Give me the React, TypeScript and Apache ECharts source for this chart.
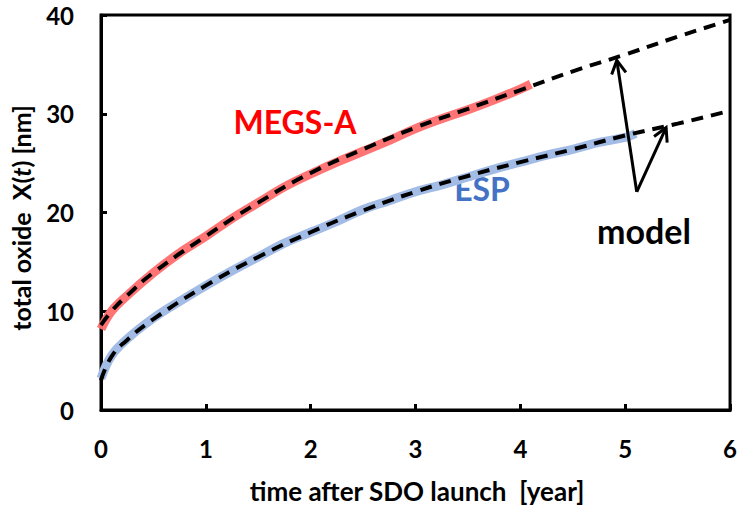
import React, { useEffect, useRef } from "react";
import * as echarts from "echarts";

const megsT = [0, 0.1, 0.25, 0.5, 0.75, 1, 1.25, 1.5, 1.75, 2, 2.25, 2.5, 2.75, 3, 3.25, 3.5, 3.75, 4, 4.1];
const megsV = [8.2, 10.0, 11.6, 13.9, 15.9, 17.6, 19.4, 21.0, 22.6, 23.9, 25.1, 26.2, 27.3, 28.5, 29.5, 30.4, 31.4, 32.5, 33.0];

const espT = [0, 0.1, 0.25, 0.5, 0.75, 1, 1.25, 1.5, 1.75, 2, 2.25, 2.5, 2.75, 3, 3.25, 3.5, 3.75, 4, 4.25, 4.5, 4.75, 5, 5.1];
const espV = [3.2, 5.5, 7.2, 9.3, 11.0, 12.6, 14.1, 15.5, 16.9, 18.0, 19.1, 20.3, 21.2, 22.1, 22.8, 23.6, 24.4, 25.1, 25.8, 26.4, 27.1, 27.6, 28.0];

const modelT = [0, 0.1, 0.25, 0.5, 1, 1.5, 2, 2.5, 3, 3.5, 4, 4.5, 5, 5.5, 6];
const modelMegsV = [8.6, 10.0, 11.6, 13.9, 17.6, 21.0, 24.0, 26.4, 28.6, 30.5, 32.4, 34.3, 36.0, 37.8, 39.5];
const modelEspV = [3.0, 5.4, 7.1, 9.2, 12.6, 15.5, 18.0, 20.2, 22.1, 23.7, 25.1, 26.4, 27.8, 29.0, 30.3];

const arrows = [
  [5.11, 22.1, 4.92, 35.4],
  [5.11, 22.1, 5.39, 28.6],
];

const xTicks = [0, 1, 2, 3, 4, 5, 6];
const yTicks = [0, 10, 20, 30, 40];

const FONT = "Lato, 'Open Sans', sans-serif";

const zip = (t: number[], v: number[]) => t.map((x, i) => [x, v[i]]);

export default function App() {
  const ref = useRef<HTMLDivElement>(null);
  useEffect(() => {
    if (!ref.current) return;
    const chart = echarts.init(ref.current, null, { renderer: "svg" });
    const axisLabel = { fontFamily: FONT, fontWeight: "bold" as const, fontSize: 24, color: "#000" };
    chart.setOption({
      animation: false,
      backgroundColor: "#fff",
      grid: { left: 101, top: 15, right: 3, bottom: 98, show: true, borderColor: "#000", borderWidth: 3, containLabel: false },
      xAxis: {
        type: "value",
        min: xTicks[0],
        max: xTicks[xTicks.length - 1],
        interval: 1,
        axisLine: { show: true, lineStyle: { color: "#000", width: 3 } },
        axisTick: { show: true, inside: true, length: 6, lineStyle: { color: "#000", width: 3 } },
        splitLine: { show: false },
        axisLabel: { ...axisLabel, margin: 26 },
      },
      yAxis: {
        type: "value",
        min: yTicks[0],
        max: yTicks[yTicks.length - 1],
        interval: 10,
        axisLine: { show: true, lineStyle: { color: "#000", width: 3 } },
        axisTick: { show: true, inside: true, length: 6, lineStyle: { color: "#000", width: 3 } },
        splitLine: { show: false },
        axisLabel: { ...axisLabel, margin: 27 },
      },
      series: [
        {
          type: "line", name: "MEGS-A", data: zip(megsT, megsV), smooth: 0.4, showSymbol: false,
          lineStyle: { color: "#ff6e6e", width: 9, opacity: 0.95 }, z: 2,
        },
        {
          type: "line", name: "ESP", data: zip(espT, espV), smooth: 0.4, showSymbol: false,
          lineStyle: { color: "#a3bce6", width: 9 }, z: 2,
        },
        {
          type: "line", name: "model MEGS-A", data: zip(modelT, modelMegsV), smooth: 0.5, showSymbol: false,
          lineStyle: { color: "#000", width: 4, type: [12, 8] }, z: 3,
        },
        {
          type: "line", name: "model ESP", data: zip(modelT, modelEspV), smooth: 0.5, showSymbol: false,
          lineStyle: { color: "#000", width: 4, type: [12, 8] }, z: 3,
        },
        {
          type: "custom", name: "arrows", data: arrows, z: 4,
          renderItem: (params: any, api: any) => {
            const p0 = api.coord([api.value(0), api.value(1)]);
            const p1 = api.coord([api.value(2), api.value(3)]);
            const ang = Math.atan2(p1[1] - p0[1], p1[0] - p0[0]);
            const L = 15, a = 0.5;
            const h1 = [p1[0] - L * Math.cos(ang - a), p1[1] - L * Math.sin(ang - a)];
            const h2 = [p1[0] - L * Math.cos(ang + a), p1[1] - L * Math.sin(ang + a)];
            return {
              type: "group",
              children: [
                { type: "line", shape: { x1: p0[0], y1: p0[1], x2: p1[0], y2: p1[1] }, style: { stroke: "#000", lineWidth: 3 } },
                { type: "polyline", shape: { points: [h1, p1, h2] }, style: { stroke: "#000", fill: null, lineWidth: 3, lineJoin: "miter" } },
              ],
            };
          },
        },
      ],
      graphic: [
        { type: "text", x: 295, y: 121, style: { text: "MEGS-A", fill: "#ff0000", font: `bold 32px ${FONT}`, align: "center", verticalAlign: "middle" } },
        { type: "text", x: 482, y: 188, style: { text: "ESP", fill: "#4472c4", font: `bold 32px ${FONT}`, align: "center", verticalAlign: "middle" } },
        { type: "text", x: 644, y: 230, style: { text: "model", fill: "#000", font: `bold 34px ${FONT}`, align: "center", verticalAlign: "middle" } },
        { type: "text", x: 417, y: 491, style: { text: "time after SDO launch  [year]", fill: "#000", font: `bold 26px ${FONT}`, align: "center", verticalAlign: "middle" } },
        {
          type: "text", x: 21, y: 218, rotation: Math.PI / 2,
          style: {
            text: "total oxide  X({it|t}) [nm]", fill: "#000", font: `bold 25px ${FONT}`, align: "center", verticalAlign: "middle",
            rich: { it: { fontStyle: "italic", fontWeight: "bold", fontSize: 25, fontFamily: FONT, fill: "#000" } },
          },
        },
      ],
    });
    return () => chart.dispose();
  }, []);
  return <div ref={ref} style={{ width: 740, height: 508, position: "absolute", left: 0, top: 0 }} />;
}
